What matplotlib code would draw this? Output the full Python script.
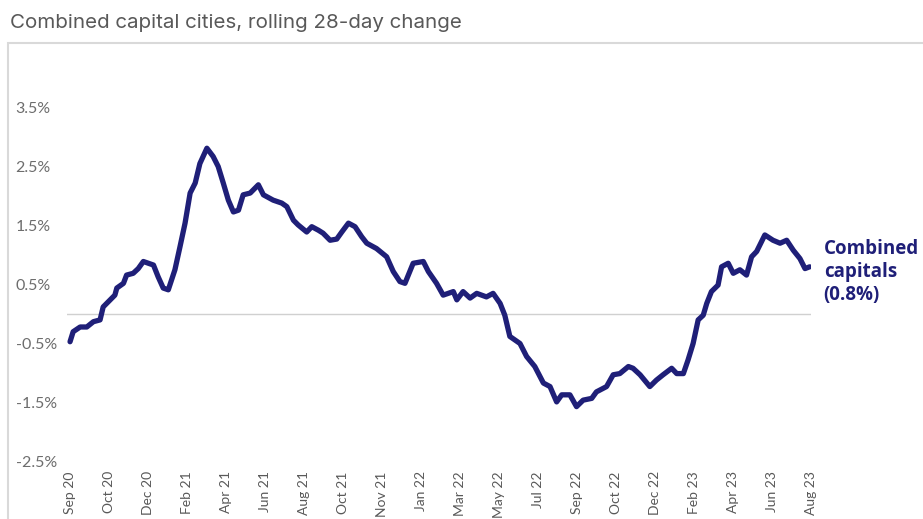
import matplotlib.pyplot as plt
import matplotlib.patches as patches

# x positions in tick units (0 = Sep 20 ... 19 = Aug 23), values in %
pos = [0.00, 0.08, 0.26, 0.43, 0.60, 0.77, 0.85, 1.03, 1.15, 1.20,
       1.37, 1.45, 1.62, 1.75, 1.88, 2.14, 2.26, 2.39, 2.52, 2.69,
       2.82, 2.95, 3.08, 3.21, 3.33, 3.51, 3.67, 3.80, 3.93, 4.06,
       4.19, 4.32, 4.44, 4.62, 4.83, 4.96, 5.21, 5.43, 5.56, 5.73,
       5.85, 6.07, 6.20, 6.37, 6.49, 6.67, 6.84, 6.97, 7.14, 7.31,
       7.48, 7.61, 7.86, 8.12, 8.29, 8.46, 8.59, 8.80, 9.06, 9.19,
       9.40, 9.57, 9.83, 9.92, 10.08, 10.26, 10.43, 10.68, 10.85, 11.03,
       11.15, 11.28, 11.54, 11.71, 11.92, 12.14, 12.31, 12.48, 12.61, 12.82,
       12.99, 13.16, 13.38, 13.50, 13.76, 13.93, 14.10, 14.32, 14.44, 14.62,
       14.87, 15.04, 15.21, 15.43, 15.56, 15.73, 15.85, 15.98, 16.11, 16.24,
       16.33, 16.45, 16.62, 16.71, 16.88, 17.01, 17.18, 17.35, 17.48, 17.61,
       17.82, 18.03, 18.21, 18.38, 18.55, 18.72, 18.85, 18.97]
change = [-0.47, -0.30, -0.22, -0.22, -0.13, -0.10, 0.12, 0.24, 0.32, 0.44,
          0.52, 0.66, 0.69, 0.77, 0.89, 0.83, 0.63, 0.44, 0.41, 0.75,
          1.14, 1.54, 2.05, 2.22, 2.55, 2.81, 2.67, 2.50, 2.22, 1.93,
          1.73, 1.76, 2.02, 2.05, 2.19, 2.02, 1.93, 1.88, 1.82, 1.59,
          1.51, 1.39, 1.48, 1.42, 1.37, 1.25, 1.27, 1.39, 1.54, 1.48,
          1.31, 1.20, 1.11, 0.97, 0.72, 0.55, 0.52, 0.86, 0.89, 0.72,
          0.52, 0.32, 0.38, 0.24, 0.38, 0.27, 0.35, 0.29, 0.35, 0.18,
          -0.02, -0.38, -0.50, -0.72, -0.89, -1.17, -1.23, -1.49, -1.37, -1.37,
          -1.57, -1.46, -1.43, -1.32, -1.23, -1.03, -1.01, -0.89, -0.92, -1.03,
          -1.23, -1.12, -1.03, -0.92, -1.01, -1.01, -0.78, -0.50, -0.10, -0.02,
          0.18, 0.38, 0.49, 0.80, 0.86, 0.69, 0.75, 0.66, 0.97, 1.06,
          1.34, 1.25, 1.20, 1.25, 1.08, 0.94, 0.77, 0.80]

month_labels = ["Sep 20", "Oct 20", "Dec 20", "Feb 21", "Apr 21", "Jun 21", "Aug 21",
                "Oct 21", "Nov 21", "Jan 22", "Mar 22", "May 22", "Jul 22", "Sep 22",
                "Oct 22", "Dec 22", "Feb 23", "Apr 23", "Jun 23", "Aug 23"]
y_ticks = [-2.5, -1.5, -0.5, 0.5, 1.5, 2.5, 3.5]

navy = '#1f1f78'

fig = plt.figure(figsize=(9.23, 5.19), dpi=100)
ax = fig.add_axes([0.0725, 0.1108, 0.806, 0.7616])

# light frame around chart area
frame = patches.Rectangle((8 / 923, -0.1), 1.2, 1.1 - 43 / 519, transform=fig.transFigure,
                          fill=False, edgecolor='#d9d9d9', linewidth=1.5, clip_on=False)
fig.patches.append(frame)

ax.axhline(0, color='#d0d0d0', linewidth=1.0, zorder=1)
ax.plot(pos, change, color=navy, linewidth=3.8, solid_joinstyle='round',
        solid_capstyle='round', zorder=2)

ax.set_xlim(-0.08, 19.0)
ax.set_ylim(-2.5, 4.2)

ax.set_xticks(range(len(month_labels)))
ax.set_xticklabels(month_labels, rotation=90, va='top', ha='center',
                   fontsize=10, color='#595959', family='Lato')
ax.set_yticks(y_ticks)
ax.set_yticklabels([f"{v:.1f}%" for v in y_ticks], ha='left',
                   fontsize=11.5, color='#6d6d6d', family='Lato')
ax.tick_params(axis='x', length=0, pad=7)
ax.tick_params(axis='y', length=0, pad=37)
for s in ax.spines.values():
    s.set_visible(False)

ax.text(pos[-1] + 0.36, change[-1] - 0.08, f"Combined\ncapitals\n({change[-1]:.1f}%)",
        color=navy, fontsize=13.5, fontweight='bold', family='Open Sans',
        va='center', ha='left', linespacing=1.2)

fig.text(10 / 923, 0.956, "Combined capital cities, rolling 28-day change",
         fontsize=14.8, color='#595959', family='Inter', va='center', ha='left')

fig.savefig('out.png', dpi=100)
